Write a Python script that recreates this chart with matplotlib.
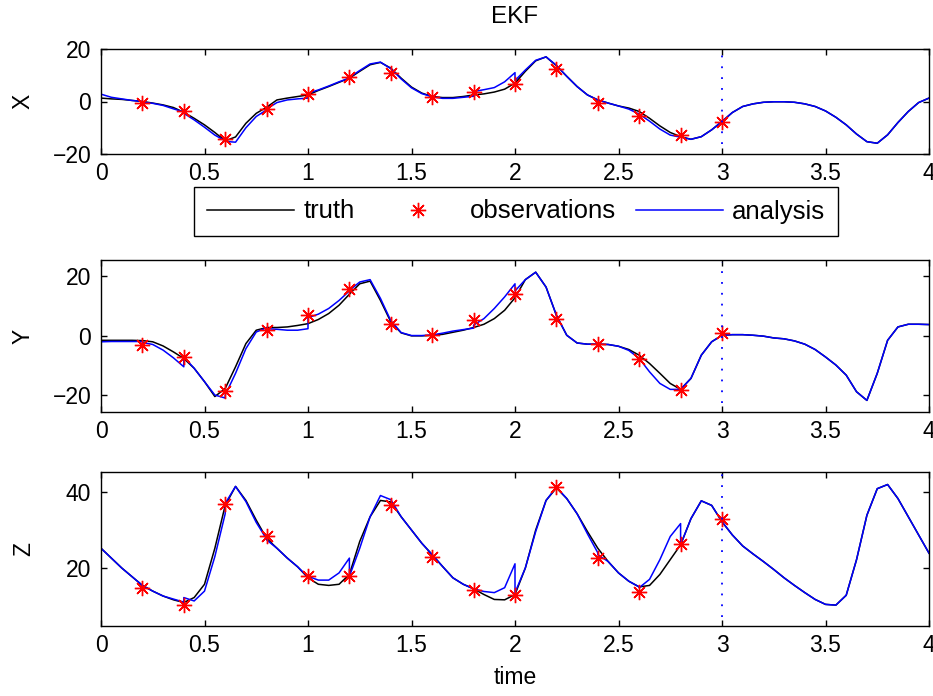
import numpy as np
import matplotlib.pyplot as plt

plt.rcParams['font.family'] = ['Liberation Sans', 'DejaVu Sans']

# ------------------------
# Data
# ------------------------
t_truth = np.linspace(0, 4, 81)          # 0.05 step
x_truth = [1.3, 1.0, 0.8, 0.4, 0.0, -0.6, -1.3, -2.3, -4.1, -6.4,
           -8.9, -11.8, -15.0, -13.5, -8.3, -4.5, -2.2, 0.6, 1.3, 1.9,
           2.5, 4.2, 5.7, 7.3, 8.9, 11.5, 14.0, 14.9, 12.7, 8.9,
           5.5, 3.2, 1.9, 1.5, 1.5, 1.9, 2.5, 2.9, 3.6, 4.7,
           7.0, 11.5, 15.5, 17.0, 13.6, 9.6, 5.7, 2.5, 0.6, -0.6,
           -1.7, -2.5, -3.8, -6.4, -9.3, -11.8, -13.4, -14.4, -13.4, -10.8,
           -7.6, -4.2, -1.9, -0.9, -0.3, -0.1, -0.1, -0.3, -0.9, -1.9,
           -3.6, -6.0, -8.9, -12.4, -15.3, -15.9, -12.7, -8.0, -3.8, -0.4,
           1.3]
y_truth = [-1.6, -1.6, -1.6, -1.6, -1.7, -2.1, -3.5, -5.5, -7.7, -11.0,
           -15.5, -20.5, -17.8, -10.5, -2.7, 1.8, 2.7, 2.7, 2.9, 3.4,
           4.0, 5.4, 7.4, 10.2, 13.9, 17.4, 18.3, 11.8, 4.6, 0.9,
           -0.1, -0.1, 0.1, 0.4, 1.1, 1.8, 2.7, 3.8, 5.7, 8.5,
           12.7, 18.8, 21.3, 16.3, 6.8, 0.1, -2.5, -2.9, -2.9, -3.0,
           -3.6, -4.7, -6.6, -9.4, -12.7, -16.1, -18.1, -14.4, -6.6, -2.1,
           0.1, 0.3, 0.3, 0.1, -0.2, -0.8, -1.1, -1.8, -2.9, -4.7,
           -7.2, -9.9, -13.3, -18.9, -21.8, -12.7, -1.6, 2.9, 3.8, 3.8,
           3.7]
z_truth = [25.2, 22.6, 20.0, 17.7, 15.4, 13.9, 12.6, 11.6, 10.9, 12.2,
           15.7, 25.2, 36.5, 41.5, 37.8, 32.6, 27.8, 25.2, 22.6, 20.3,
           17.4, 15.7, 15.4, 15.7, 18.3, 27.0, 33.5, 37.8, 37.4, 33.5,
           30.0, 26.5, 23.5, 20.4, 17.4, 15.7, 14.5, 13.0, 11.7, 11.6,
           13.0, 20.0, 30.0, 37.8, 41.1, 38.3, 34.3, 29.6, 25.2, 21.7,
           18.7, 16.5, 15.0, 15.4, 18.3, 22.2, 26.1, 33.0, 37.7, 36.5,
           32.2, 28.7, 25.8, 23.7, 21.7, 19.6, 17.4, 15.4, 13.5, 11.7,
           10.4, 10.2, 12.8, 22.2, 33.9, 40.9, 42.0, 38.3, 33.5, 28.7,
           23.9]

# observations every 0.2 up to t = 3
t_obs = np.linspace(0.2, 3.0, 15)
x_obs = [-0.5, -3.6, -14.4, -2.9, 2.9, 9.4, 11.0, 1.8, 3.7, 6.8, 12.5, -0.5, -5.5, -12.6, -7.7]
y_obs = [-3.2, -7.2, -18.5, 2.0, 6.8, 15.8, 4.0, 0.3, 5.1, 14.1, 5.7, -2.7, -8.0, -18.3, 0.9]
z_obs = [14.8, 10.2, 36.8, 28.4, 17.8, 17.8, 36.5, 22.9, 14.3, 13.0, 41.3, 22.6, 13.7, 26.3, 32.8]

# analysis (after each update) on a 0.05 grid up to t = 3
t_an = np.linspace(0, 3, 61)
x_an = [2.8, 1.6, 1.0, 0.4, -0.2, -0.7, -1.5, -2.8, -4.5, -7.0,
        -9.8, -12.8, -15.2, -15.5, -10.0, -5.7, -2.9, -0.4, 0.6, 1.0,
        3.2, 4.4, 5.9, 7.5, 9.2, 11.8, 14.3, 15.0, 12.5, 8.6,
        5.2, 3.0, 1.8, 1.2, 1.2, 1.6, 3.8, 4.5, 5.3, 7.5,
        8.0, 12.0, 15.7, 17.0, 13.8, 9.6, 5.7, 2.5, 0.6, -0.6,
        -1.7, -2.9, -4.8, -7.5, -10.5, -12.8, -13.6, -14.4, -13.4, -10.8,
        -7.6]
y_an = [-2.1, -2.0, -2.0, -2.0, -2.3, -3.0, -4.9, -7.5, -7.2, -11.0,
        -15.5, -20.0, -20.0, -12.7, -4.4, 1.2, 2.3, 2.1, 1.8, 1.8,
        6.0, 7.2, 9.1, 11.8, 15.2, 18.0, 18.8, 12.5, 5.0, 1.0,
        0.0, 0.0, 0.2, 0.8, 1.5, 2.0, 3.5, 5.7, 9.1, 13.0,
        15.0, 18.8, 21.3, 16.3, 6.8, 0.1, -2.5, -2.9, -2.9, -3.0,
        -3.6, -5.0, -7.7, -12.2, -16.1, -18.1, -18.1, -14.4, -6.6, -2.1,
        0.1]
z_an = [25.2, 22.6, 20.0, 17.7, 15.4, 13.9, 12.6, 11.8, 12.2, 11.3,
        13.9, 23.0, 37.0, 41.5, 37.5, 32.0, 27.4, 25.2, 22.6, 20.3,
        17.8, 16.8, 16.8, 18.7, 17.8, 25.2, 33.5, 39.1, 38.0, 33.5,
        30.0, 26.5, 23.5, 20.4, 17.4, 15.7, 14.5, 13.8, 13.5, 14.8,
        13.5, 20.0, 29.6, 37.8, 41.3, 38.3, 34.3, 29.0, 23.5, 21.7,
        18.7, 16.5, 14.8, 17.0, 22.2, 28.3, 26.1, 33.0, 37.7, 36.5,
        32.2]
# forecast values just before each update
x_prior = [0.0, -4.0, -15.0, -3.2, 1.3, 8.9, 12.5, 1.8, 2.0, 11.0, 13.8, 0.6, -4.8, -13.6, -7.6]
y_prior = [-2.0, -10.5, -21.0, 2.6, 2.3, 15.0, 5.0, 0.2, 2.5, 17.4, 6.8, -2.9, -7.7, -18.1, 0.1]
z_prior = [15.4, 11.0, 34.3, 27.6, 17.6, 22.6, 38.0, 23.5, 14.5, 21.1, 41.3, 24.0, 15.0, 31.7, 32.2]

names = ['X', 'Y', 'Z']
truths = [x_truth, y_truth, z_truth]
obss = [x_obs, y_obs, z_obs]
ans_ = [x_an, y_an, z_an]
priors = [x_prior, y_prior, z_prior]
ylims = [(-20, 20), (-25.7, 25.4), (4.7, 45.3)]
yticks = [[-20, 0, 20], [-20, 0, 20], [20, 40]]
xticks = np.arange(0, 4.01, 0.5)
xticklabels = ['0', '0.5', '1', '1.5', '2', '2.5', '3', '3.5', '4']


def with_jumps(t, post, tj, prior):
    # insert the pre-update value before each analysis update
    tt, vv = [], []
    j = 0
    for ti, vi in zip(t, post):
        if j < len(tj) and abs(ti - tj[j]) < 1e-9:
            tt.append(ti)
            vv.append(prior[j])
            j += 1
        tt.append(ti)
        vv.append(vi)
    return tt, vv


# ------------------------
# Figure
# ------------------------
fig = plt.figure(figsize=(9.33, 6.96), dpi=100)
rects = [[101/933, 1-154/696, 828/933, 105/696],
         [101/933, 1-412/696, 828/933, 152/696],
         [101/933, 1-626/696, 828/933, 154/696]]
vl = [(0.10, 0.94), (0.06, 0.985), (0.06, 0.99)]

axs = []
for i in range(3):
    ax = fig.add_axes(rects[i])
    tr = np.array(truths[i])
    h1, = ax.plot(t_truth, tr, color='k', lw=1.1, label='truth')
    ta, va = with_jumps(t_an, ans_[i], t_obs, priors[i])
    h3, = ax.plot(ta, va, color='b', lw=1.1, label='analysis')
    m = t_truth >= 3.0 - 1e-9
    ax.plot(t_truth[m], tr[m], color='b', lw=1.1)
    h2, = ax.plot(t_obs, obss[i], ls='none', marker=(8, 2, 0), ms=11,
                  mec='r', mfc='r', mew=1.0, color='r', label='observations')
    ax.axvline(3, ymin=vl[i][0], ymax=vl[i][1], color='b', lw=1.3,
               ls=(0, (1, 5)))
    ax.set_xlim(0, 4)
    ax.set_ylim(*ylims[i])
    ax.set_yticks(yticks[i])
    ax.set_xticks(xticks)
    ax.set_xticklabels(xticklabels)
    ax.tick_params(direction='in', top=True, right=True, length=4,
                   width=1, labelsize=16.5)
    ax.tick_params(axis='x', pad=6)
    ax.tick_params(axis='y', pad=7)
    for s in ax.spines.values():
        s.set_linewidth(1.0)
    ax.set_ylabel(names[i], fontsize=16.5)
    ax.yaxis.set_label_coords(-0.08, 0.5)
    axs.append(ax)
    if i == 0:
        handles = [h1, h2, h3]

axs[0].set_title('EKF', fontsize=17.5, pad=19)
axs[2].set_xlabel('time', fontsize=16.5, labelpad=6)

leg = axs[0].legend(handles=handles, loc='center', ncol=3,
                    bbox_to_anchor=(516/933, 1-211.5/696),
                    bbox_transform=fig.transFigure,
                    fontsize=18.5, numpoints=1, handlelength=3.4,
                    handletextpad=0.35, columnspacing=0.75,
                    borderpad=0.5, borderaxespad=0, fancybox=False,
                    framealpha=1, edgecolor='k')
leg.get_frame().set_linewidth(1.0)

plt.savefig('out.png', dpi=100)
